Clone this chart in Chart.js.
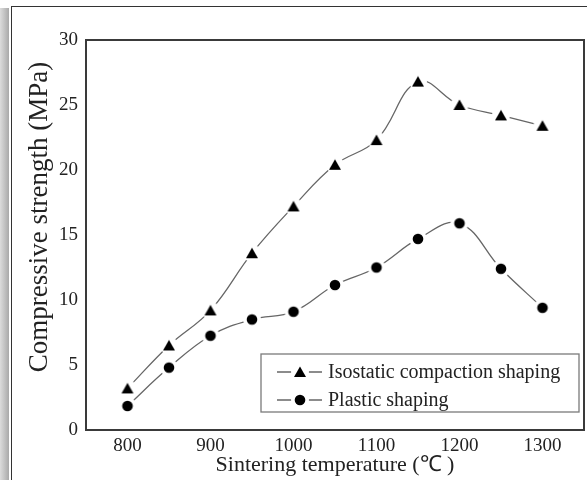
<!DOCTYPE html>
<html><head><meta charset="utf-8">
<script src="https://cdn.jsdelivr.net/npm/chart.js@4"></script>
<style>
html,body{margin:0;padding:0;background:#fff;overflow:hidden;}
#wrap{position:relative;width:587px;height:480px;overflow:hidden;background:#fff;}
#shade{position:absolute;left:0;top:8px;width:9px;height:480px;background:linear-gradient(to right,#dcdcdc,#a9a9a9);}
#frame{position:absolute;left:11px;top:6px;width:600px;height:500px;border-left:1.5px solid #333;border-top:1.5px solid #333;}
canvas{position:absolute;left:0;top:0;}
</style></head>
<body><div id="wrap"><div id="shade"></div><div id="frame"></div><canvas id="c" width="587" height="480"></canvas></div>
<script>
const temperatures = [800, 850, 900, 950, 1000, 1050, 1100, 1150, 1200, 1250, 1300];
const isostatic = [3.2, 6.5, 9.2, 13.6, 17.2, 20.4, 22.3, 26.8, 25.0, 24.2, 23.4];
const plastic = [1.85, 4.8, 7.25, 8.5, 9.1, 11.15, 12.5, 14.7, 15.9, 12.4, 9.4];
const xTicks = [800, 900, 1000, 1100, 1200, 1300];
const yTicks = [0, 5, 10, 15, 20, 25, 30];
const seriesNames = ['Isostatic compaction shaping', 'Plastic shaping'];
const xTitle = 'Sintering temperature (\u2103 )';
const yTitle = 'Compressive strength (MPa)';

const FONT = '"Liberation Serif", "Times New Roman", serif';
const TEXT = '#222';

function makeMarker(kind) {
  const s = 20, c = document.createElement('canvas');
  c.width = s; c.height = s;
  const g = c.getContext('2d');
  g.fillStyle = '#fff';
  g.beginPath(); g.arc(s/2, s/2, 9, 0, Math.PI*2); g.fill();
  g.fillStyle = '#000';
  g.beginPath();
  if (kind === 'tri') {
    g.moveTo(s/2, s/2 - 5.5); g.lineTo(s/2 + 6, s/2 + 5); g.lineTo(s/2 - 6, s/2 + 5); g.closePath();
  } else {
    g.arc(s/2, s/2, 5.3, 0, Math.PI*2);
  }
  g.fill();
  return c;
}
const triImg = makeMarker('tri');
const dotImg = makeMarker('dot');

const framePlugin = {
  id: 'frame',
  afterDraw(chart) {
    const {ctx, chartArea: a} = chart;
    ctx.save();
    ctx.strokeStyle = '#3a3a3a';
    ctx.lineWidth = 2;
    ctx.strokeRect(a.left, a.top, a.right - a.left, a.bottom - a.top);
    // legend
    const lx = 261, ly = 354, lw = 318, lh = 58;
    ctx.strokeStyle = '#7a7a7a';
    ctx.lineWidth = 1.3;
    ctx.fillStyle = '#fff';
    ctx.fillRect(lx, ly, lw, lh);
    ctx.strokeRect(lx, ly, lw, lh);
    const rows = [372, 400];
    const imgs = [triImg, dotImg];
    ctx.font = '20px ' + FONT;
    ctx.textBaseline = 'middle';
    ctx.textAlign = 'left';
    rows.forEach((y, i) => {
      ctx.strokeStyle = '#666';
      ctx.lineWidth = 1.3;
      ctx.beginPath();
      ctx.moveTo(277, y); ctx.lineTo(322, y); ctx.stroke();
      ctx.drawImage(imgs[i], 300 - 10, y - 10);
      ctx.fillStyle = TEXT;
      ctx.fillText(seriesNames[i], 328, y + 1);
    });
    // y title
    ctx.translate(40, 217);
    ctx.rotate(-Math.PI / 2);
    ctx.textAlign = 'center';
    ctx.textBaseline = 'middle';
    ctx.font = '27px ' + FONT;
    ctx.fillStyle = TEXT;
    ctx.fillText(yTitle, 0, 0);
    ctx.restore();
  }
};

new Chart(document.getElementById('c'), {
  type: 'line',
  data: {
    datasets: [
      { label: seriesNames[0], data: temperatures.map((t, i) => ({x: t, y: isostatic[i]})),
        borderColor: '#666', borderWidth: 1.3, tension: 0.4, pointStyle: triImg, pointRadius: 10, fill: false },
      { label: seriesNames[1], data: temperatures.map((t, i) => ({x: t, y: plastic[i]})),
        borderColor: '#666', borderWidth: 1.3, tension: 0.4, pointStyle: dotImg, pointRadius: 10, fill: false }
    ]
  },
  options: {
    responsive: false,
    animation: false,
    layout: { autoPadding: false, padding: { top: 40, right: 3, left: 0, bottom: 0 } },
    plugins: { legend: { display: false }, tooltip: { enabled: false } },
    scales: {
      x: {
        type: 'linear', min: 750, max: 1350,
        afterBuildTicks: s => { s.ticks = xTicks.map(v => ({value: v})); },
        afterFit: s => { s.height = 50; s.paddingLeft = 0; s.paddingRight = 0; },
        grid: { display: false, drawTicks: false },
        border: { display: false },
        ticks: { color: TEXT, font: { family: FONT, size: 19 }, padding: 5, maxRotation: 0, callback: v => String(v) },
        title: { display: true, text: xTitle, color: TEXT, font: { family: FONT, size: 22 }, padding: { top: 0, bottom: 2 } }
      },
      y: {
        min: 0, max: 30,
        afterBuildTicks: s => { s.ticks = yTicks.map(v => ({value: v})); },
        afterFit: s => { s.width = 86; s.paddingTop = 0; s.paddingBottom = 0; },
        grid: { display: false, drawTicks: false },
        border: { display: false },
        ticks: { color: TEXT, font: { family: FONT, size: 19 }, padding: 8, callback: v => String(v) }
      }
    }
  },
  plugins: [framePlugin]
});
</script>
</body></html>
